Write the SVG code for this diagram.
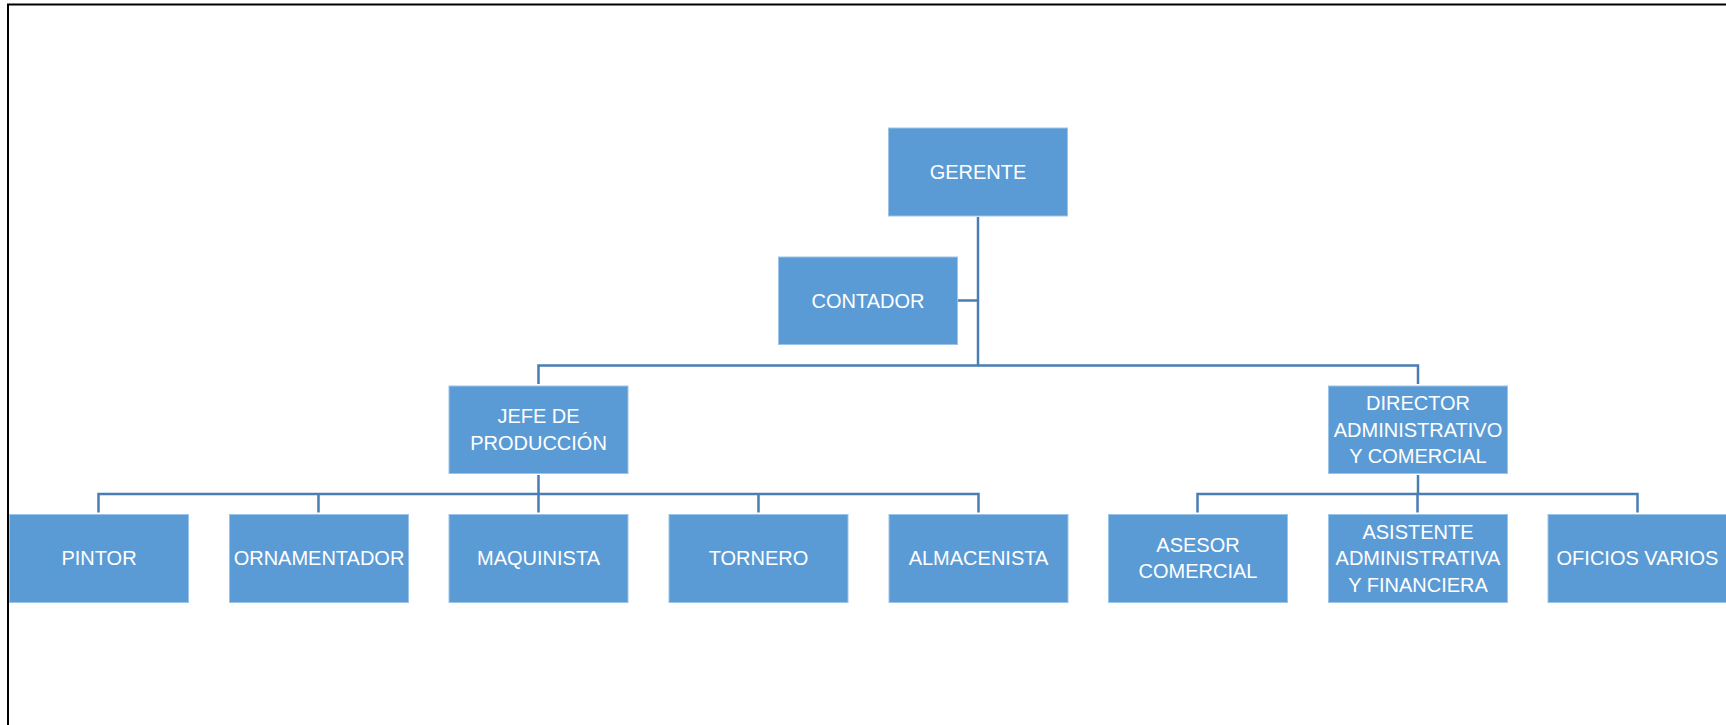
<svg xmlns="http://www.w3.org/2000/svg" width="1726" height="725" viewBox="0 0 1726 725">
<style>
.box{fill:#5b9bd5;stroke:#9cc3e8;stroke-width:1}
.t{font-family:"Liberation Sans",Arial,sans-serif;font-size:20px;fill:#ffffff;text-anchor:middle}
.c{fill:none;stroke:#4a7db4;stroke-width:2.5}
</style>
<rect x="0" y="0" width="1726" height="725" fill="#ffffff"/>
<path d="M8 725 V4.5 H1726" fill="none" stroke="#000000" stroke-width="2"/>
<g id="connectors">
<path class="c" d="M978 217 V365.5"/>
<path class="c" d="M958 300.5 H978"/>
<path class="c" d="M538.5 384 V365.5 H1418 V384"/>
<path class="c" d="M538.5 475 V494"/>
<path class="c" d="M98.5 512.5 V494 H978.5 V512.5"/>
<path class="c" d="M318.5 494 V512.5 M538.5 494 V512.5 M758.5 494 V512.5"/>
<path class="c" d="M1418 475 V494"/>
<path class="c" d="M1197.5 512.5 V494 H1637.5 V512.5"/>
<path class="c" d="M1417.5 494 V512.5"/>
</g>
<g id="gerente"><rect class="box" x="888.5" y="128" width="179" height="88"/><text class="t" x="978" y="179">GERENTE</text></g>
<g id="contador"><rect class="box" x="778.5" y="257" width="179" height="87.5"/><text class="t" x="868" y="307.5">CONTADOR</text></g>
<g id="jefe"><rect class="box" x="449" y="386" width="179" height="87.5"/><text class="t" x="538.5" y="423">JEFE DE</text><text class="t" x="538.5" y="449.7">PRODUCCIÓN</text></g>
<g id="director"><rect class="box" x="1328.5" y="386" width="179" height="87.5"/><text class="t" x="1418" y="410">DIRECTOR</text><text class="t" x="1418" y="436.7">ADMINISTRATIVO</text><text class="t" x="1418" y="463">Y COMERCIAL</text></g>
<g id="pintor"><rect class="box" x="9.5" y="514.5" width="179" height="88"/><text class="t" x="99" y="565">PINTOR</text></g>
<g id="ornamentador"><rect class="box" x="229.5" y="514.5" width="179" height="88"/><text class="t" x="319" y="565">ORNAMENTADOR</text></g>
<g id="maquinista"><rect class="box" x="449" y="514.5" width="179" height="88"/><text class="t" x="538.5" y="565">MAQUINISTA</text></g>
<g id="tornero"><rect class="box" x="669" y="514.5" width="179" height="88"/><text class="t" x="758.5" y="565">TORNERO</text></g>
<g id="almacenista"><rect class="box" x="889" y="514.5" width="179" height="88"/><text class="t" x="978.5" y="565">ALMACENISTA</text></g>
<g id="asesor"><rect class="box" x="1108.5" y="514.5" width="179" height="88"/><text class="t" x="1198" y="551.5">ASESOR</text><text class="t" x="1198" y="578">COMERCIAL</text></g>
<g id="asistente"><rect class="box" x="1328.5" y="514.5" width="179" height="88"/><text class="t" x="1418" y="538.5">ASISTENTE</text><text class="t" x="1418" y="565">ADMINISTRATIVA</text><text class="t" x="1418" y="591.5">Y FINANCIERA</text></g>
<g id="oficios"><rect class="box" x="1548" y="514.5" width="179" height="88"/><text class="t" x="1637.5" y="565">OFICIOS VARIOS</text></g>
</svg>
